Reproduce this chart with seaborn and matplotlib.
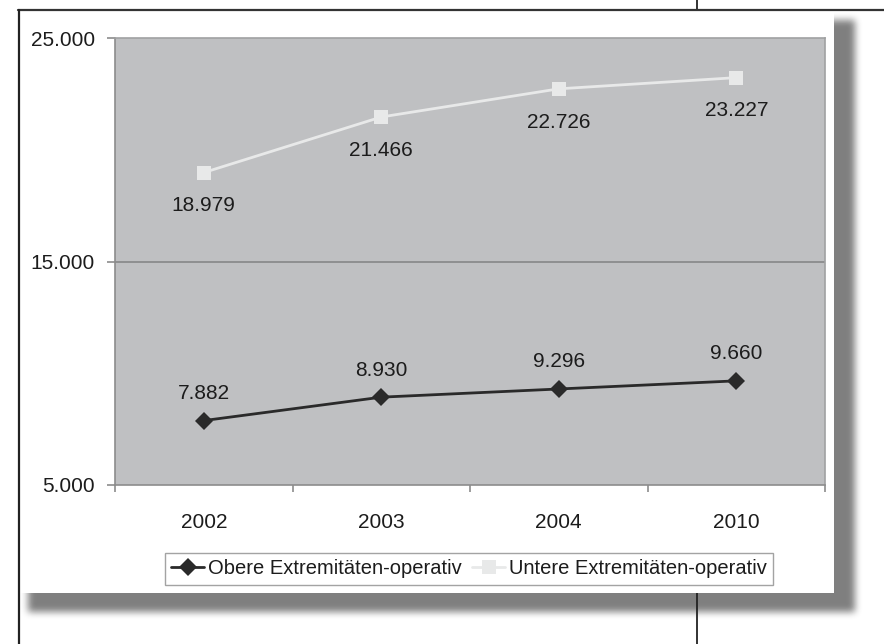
import numpy as np
import pandas as pd
import matplotlib
matplotlib.use("Agg")
import matplotlib.pyplot as plt
from matplotlib.patches import Rectangle
from matplotlib.lines import Line2D
import seaborn as sns

# Data
years = ["2002", "2003", "2004", "2010"]
obere = [7882, 8930, 9296, 9660]
untere = [18979, 21466, 22726, 23227]
series_names = ["Obere Extremitäten-operativ", "Untere Extremitäten-operativ"]
y_ticks = [5000, 15000, 25000]
y_tick_labels = ["5.000", "15.000", "25.000"]

df = pd.DataFrame({
    "Jahr": years * 2,
    "Wert": obere + untere,
    "Reihe": [series_names[0]] * len(years) + [series_names[1]] * len(years),
})

sns.set_theme(style="white")
plt.rcParams["font.family"] = ["Liberation Sans", "DejaVu Sans"]
TEXT = "#1c1c1c"
FS = 15

W, H = 884, 644
fig = plt.figure(figsize=(W / 100, H / 100), dpi=100)
fig.patch.set_facecolor("white")

# Background layer: page frame, drop shadow and white chart panel
bg = fig.add_axes([0, 0, 1, 1], zorder=0)
bg.set_xlim(0, W)
bg.set_ylim(H, 0)
bg.axis("off")

shade = np.ones((H, W))
shade[20:612, 28:855] = 0.5


def box_blur(a, k, axis):
    kern = np.ones(k) / k
    pad = k // 2
    padded = np.pad(a, [(pad, pad) if i == axis else (0, 0) for i in range(2)], mode="edge")
    return np.apply_along_axis(lambda r: np.convolve(r, kern, mode="valid"), axis, padded)


for _ in range(3):
    shade = box_blur(shade, 7, 0)
    shade = box_blur(shade, 7, 1)

bg.imshow(shade, cmap="gray", vmin=0, vmax=1, extent=(0, W, H, 0),
          interpolation="bilinear", zorder=0, aspect="auto")
bg.add_line(Line2D([697, 697], [0, H], color="#222222", lw=1.3, zorder=1))
bg.add_patch(Rectangle((18, 10), 834 - 18, 593 - 10, facecolor="white",
                       edgecolor="none", zorder=2))
bg.add_line(Line2D([18, W], [9.5, 9.5], color="#333333", lw=1.6, zorder=3))
bg.add_line(Line2D([18.5, 18.5], [9.5, H], color="#222222", lw=1.6, zorder=3))

# Plot area
left, right = 115 / W, 825 / W
bottom, top = 1 - 485 / H, 1 - 38 / H
ax = fig.add_axes([left, bottom, right - left, top - bottom], zorder=1)
ax.set_facecolor("#bfc0c2")

palette = {series_names[0]: "#2a2a2a", series_names[1]: "#e8e9e9"}
markers = {series_names[0]: "D", series_names[1]: "s"}
sns.lineplot(data=df, x="Jahr", y="Wert", hue="Reihe", style="Reihe",
             palette=palette, markers=markers, dashes=False, ax=ax,
             markersize=10, markeredgewidth=0, linewidth=2.0, sort=False)
for ln in ax.lines:
    if ln.get_marker() == "D":
        ln.set_markersize(9)

ax.set_xlim(-0.5, len(years) - 0.5)
ax.set_ylim(5000, 25000)
ax.set_xlabel("")
ax.set_ylabel("")

ax.axhline(15000, color="#8a8b8c", lw=1.3, zorder=0.5)

ax.set_yticks(y_ticks)
ax.set_yticklabels(y_tick_labels)
ax.set_xticks(range(len(years)))
ax.set_xticklabels(years)
ax.set_xticks(np.arange(-0.5, len(years)), minor=True)
ax.tick_params(axis="x", which="major", length=0, pad=20, labelsize=FS, labelcolor=TEXT)
ax.tick_params(axis="x", which="minor", length=5, width=1.2, color="#8c8c8c", direction="out", bottom=True)
ax.tick_params(axis="y", which="major", length=6, width=1.2, color="#8c8c8c", direction="out",
               left=True, pad=8.5, labelsize=FS, labelcolor=TEXT)

for name, sp in ax.spines.items():
    sp.set_visible(True)
    sp.set_color("#a0a1a2")
    sp.set_linewidth(1.2)
ax.spines["bottom"].set_color("#8c8c8c")
ax.spines["left"].set_color("#8c8c8c")

# Value labels
def fmt(v):
    return f"{v:,}".replace(",", ".")

for i, v in enumerate(obere):
    ax.annotate(fmt(v), (i, v), xytext=(0, 19.5), textcoords="offset points",
                ha="center", va="center", fontsize=FS, color=TEXT)
for i, v in enumerate(untere):
    ax.annotate(fmt(v), (i, v), xytext=(0, -24), textcoords="offset points",
                ha="center", va="center", fontsize=FS, color=TEXT)

# Legend below the plot area
handles, labels = ax.get_legend_handles_labels()
if ax.get_legend() is not None:
    ax.get_legend().remove()
leg = fig.legend(handles[-2:] if len(handles) > 2 else handles,
                 labels[-2:] if len(labels) > 2 else labels,
                 loc="center", bbox_to_anchor=(469 / W, 1 - 569 / H), ncol=2,
                 frameon=True, fancybox=False, shadow=False, fontsize=14.5,
                 handlelength=1.65, handletextpad=0.2, columnspacing=0.5,
                 borderpad=0.3, borderaxespad=0, edgecolor="#8c8c8c")
leg.get_frame().set_linewidth(1.0)
leg.set_zorder(5)
for t in leg.get_texts():
    t.set_color(TEXT)

fig.savefig("out.png", dpi=100)
